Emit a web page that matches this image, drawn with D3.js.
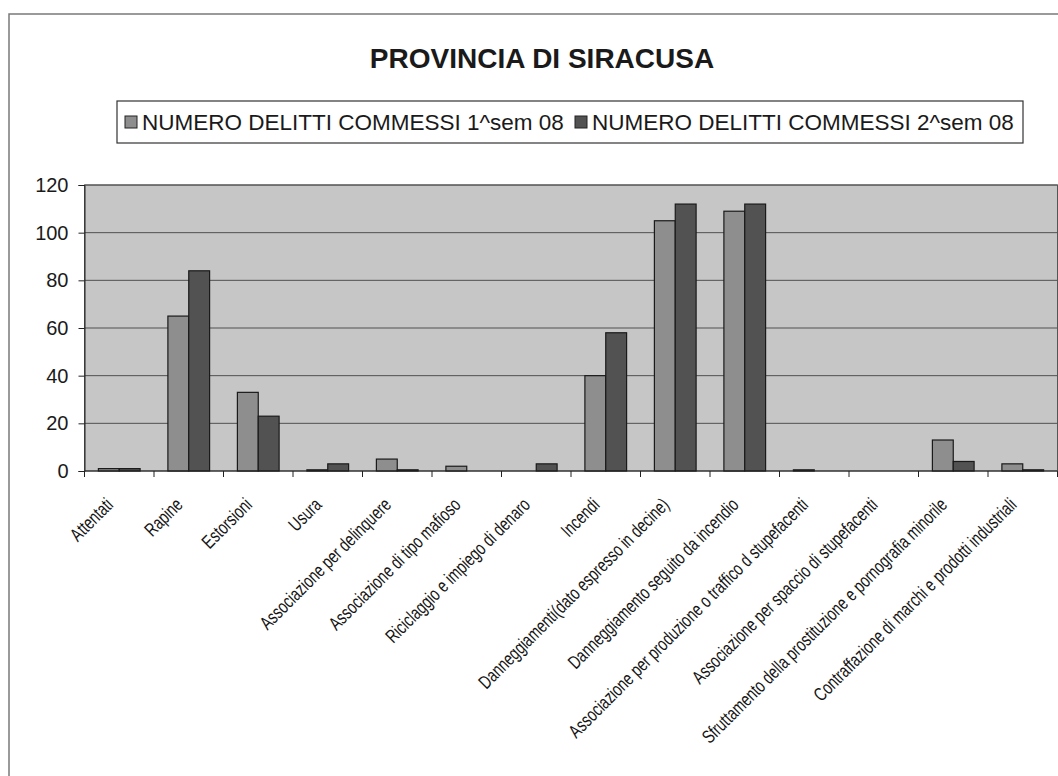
<!DOCTYPE html>
<html>
<head>
<meta charset="utf-8">
<script src="https://cdn.jsdelivr.net/npm/d3@7"></script>
<style>
  body { margin: 0; background: #fff; }
  svg { display: block; }
</style>
</head>
<body>
<svg width="1058" height="776"></svg>
<script>
  var categories = [
    "Attentati",
    "Rapine",
    "Estorsioni",
    "Usura",
    "Associazione per delinquere",
    "Associazione di tipo mafioso",
    "Riciclaggio e impiego di denaro",
    "Incendi",
    "Danneggiamenti(dato espresso in decine)",
    "Danneggiamento seguito da incendio",
    "Associazione per produzione o traffico d stupefacenti",
    "Associazione per spaccio di stupefacenti",
    "Sfruttamento della prostituzione e pornografia minorile",
    "Contraffazione di marchi e prodotti industriali"
  ];
  var seriesNames = ["NUMERO DELITTI COMMESSI 1^sem 08", "NUMERO DELITTI COMMESSI 2^sem 08"];
  var sem1 = [1, 65, 33, 0.5, 5, 2, 0, 40, 105, 109, 0.5, 0, 13, 3];
  var sem2 = [1, 84, 23, 3, 0.5, 0, 3, 58, 112, 112, 0, 0, 4, 0.5];
  var yTicks = [0, 20, 40, 60, 80, 100, 120];
  var colors = ["#8e8e8e", "#525252"];

  var svg = d3.select("svg");

  // page frame (scanned sheet border)
  svg.append("path")
    .attr("d", "M9,776 L9,14 L1058,14")
    .attr("fill", "none")
    .attr("stroke", "#7a7a7a")
    .attr("stroke-width", 1.5);

  // title
  svg.append("text")
    .attr("x", 542)
    .attr("y", 68)
    .attr("text-anchor", "middle")
    .style("font-family", "Arial, 'Liberation Sans', sans-serif")
    .style("font-weight", "bold")
    .style("font-size", "28px")
    .style("fill", "#1a1a1a")
    .text("PROVINCIA DI SIRACUSA");

  // legend
  var legend = svg.append("g");
  legend.append("rect")
    .attr("x", 117).attr("y", 101)
    .attr("width", 906).attr("height", 42)
    .attr("fill", "#fff")
    .attr("stroke", "#333")
    .attr("stroke-width", 1.2);
  var legendX = [125, 575];
  seriesNames.forEach(function (name, i) {
    legend.append("rect")
      .attr("x", legendX[i]).attr("y", 116)
      .attr("width", 12).attr("height", 12)
      .attr("fill", colors[i])
      .attr("stroke", "#222");
    legend.append("text")
      .attr("x", legendX[i] + 17)
      .attr("y", 130)
      .style("font-family", "Arial, 'Liberation Sans', sans-serif")
      .style("font-size", "22.5px")
      .style("fill", "#1a1a1a")
      .text(name);
  });

  var margin = { left: 84.5, right: 1057.5, top: 185, bottom: 471 };

  var x = d3.scaleBand()
    .domain(categories)
    .range([margin.left, margin.right])
    .paddingInner(0.4)
    .paddingOuter(0.2);
  var x1 = d3.scaleBand()
    .domain([0, 1])
    .range([0, x.bandwidth()]);
  var y = d3.scaleLinear()
    .domain([0, 120])
    .range([margin.bottom, margin.top]);

  // plot area
  svg.append("rect")
    .attr("x", margin.left)
    .attr("y", margin.top)
    .attr("width", margin.right - margin.left)
    .attr("height", margin.bottom - margin.top)
    .attr("fill", "#c6c6c6")
    .attr("stroke", "#555")
    .attr("stroke-width", 1);

  // gridlines
  svg.append("g")
    .selectAll("line")
    .data(yTicks.slice(1))
    .enter()
    .append("line")
    .attr("x1", margin.left)
    .attr("x2", margin.right)
    .attr("y1", function (d) { return y(d); })
    .attr("y2", function (d) { return y(d); })
    .attr("stroke", "#505050")
    .attr("stroke-width", 1);

  // y axis
  var yAxis = svg.append("g")
    .attr("transform", "translate(" + margin.left + ",0)")
    .call(d3.axisLeft(y).tickValues(yTicks).tickSize(6).tickPadding(10));
  yAxis.select(".domain").attr("stroke", "#222");
  yAxis.selectAll(".tick line").attr("stroke", "#222");
  yAxis.selectAll("text")
    .style("font-family", "Arial, 'Liberation Sans', sans-serif")
    .style("font-size", "20px")
    .style("fill", "#1a1a1a");

  // bars
  var rows = categories.map(function (c, i) {
    return { cat: c, values: [sem1[i], sem2[i]] };
  });
  var groups = svg.append("g")
    .selectAll("g")
    .data(rows)
    .enter()
    .append("g")
    .attr("transform", function (d) { return "translate(" + x(d.cat) + ",0)"; });
  groups.selectAll("rect")
    .data(function (d) { return d.values.map(function (v, k) { return { k: k, v: v }; }); })
    .enter()
    .filter(function (d) { return d.v > 0; })
    .append("rect")
    .attr("x", function (d) { return x1(d.k); })
    .attr("width", x1.bandwidth())
    .attr("y", function (d) { return y(d.v); })
    .attr("height", function (d) { return y(0) - y(d.v); })
    .attr("fill", function (d) { return colors[d.k]; })
    .attr("stroke", "#1a1a1a")
    .attr("stroke-width", 1.2);

  // x axis line and ticks at category boundaries
  var step = x.step();
  var bounds = d3.range(categories.length + 1).map(function (i) { return margin.left + i * step; });
  svg.append("line")
    .attr("x1", margin.left).attr("x2", margin.right)
    .attr("y1", y(0)).attr("y2", y(0))
    .attr("stroke", "#222").attr("stroke-width", 1.2);
  svg.append("g")
    .selectAll("line")
    .data(bounds)
    .enter()
    .append("line")
    .attr("x1", function (d) { return d; })
    .attr("x2", function (d) { return d; })
    .attr("y1", y(0))
    .attr("y2", y(0) + 6)
    .attr("stroke", "#222");

  // rotated category labels, condensed like the original narrow font
  svg.append("g")
    .selectAll("text")
    .data(categories)
    .enter()
    .append("text")
    .attr("transform", function (d) {
      var cx = x(d) + x.bandwidth() / 2;
      return "translate(" + (cx - 5) + ",506) rotate(-45) scale(0.74,1)";
    })
    .attr("text-anchor", "end")
    .style("font-family", "'Liberation Sans', Arial, sans-serif")
    .style("font-size", "19px")
    .style("fill", "#151515")
    .text(function (d) { return d; });
</script>
</body>
</html>
